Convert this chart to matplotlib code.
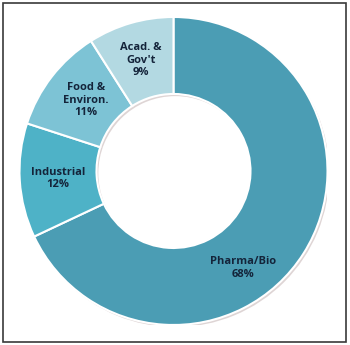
import matplotlib.pyplot as plt
from matplotlib.patches import Rectangle, Wedge

labels = ["Pharma/Bio", "Industrial", "Food &\nEnviron.", "Acad. &\nGov't"]
shares = [68, 12, 11, 9]
colors = ["#4b9db4", "#4eb2c7", "#7dc3d5", "#b3d9e2"]
# label centres, in units of the outer radius
label_pos = [(0.45, -0.63), (-0.75, -0.05), (-0.57, 0.46), (-0.21, 0.72)]

fig = plt.figure(figsize=(3.5, 3.45), dpi=100)
ax = fig.add_axes([0.0557, 0.058, 0.88, 0.8928])

# soft shadow under the ring
ax.add_patch(Wedge((0.012, -0.014), 1.0, 0, 360, width=0.5,
                   facecolor="#c9b9b9", edgecolor="none", alpha=0.6, zorder=0))

wedges, _ = ax.pie(shares, colors=colors, startangle=90, counterclock=False,
                   radius=1.0, wedgeprops=dict(width=0.5, edgecolor="white", linewidth=1.5))
for w in wedges:
    w.set_zorder(1)

for lab, pct, (x, y) in zip(labels, shares, label_pos):
    ax.text(x, y, f"{lab}\n{pct}%", ha="center", va="center", fontsize=8,
            family="Open Sans", fontweight="bold", color="#14243a",
            linespacing=1.15, zorder=3)

ax.set_xlim(-1, 1)
ax.set_ylim(-1, 1)
ax.set_aspect("equal")
ax.axis("off")

fig.patches.append(Rectangle((3 / 350, 3 / 345), 343 / 350, 339 / 345,
                             transform=fig.transFigure, fill=False,
                             edgecolor="#3a3a3a", linewidth=1.2))

fig.savefig("out.png", dpi=100)
